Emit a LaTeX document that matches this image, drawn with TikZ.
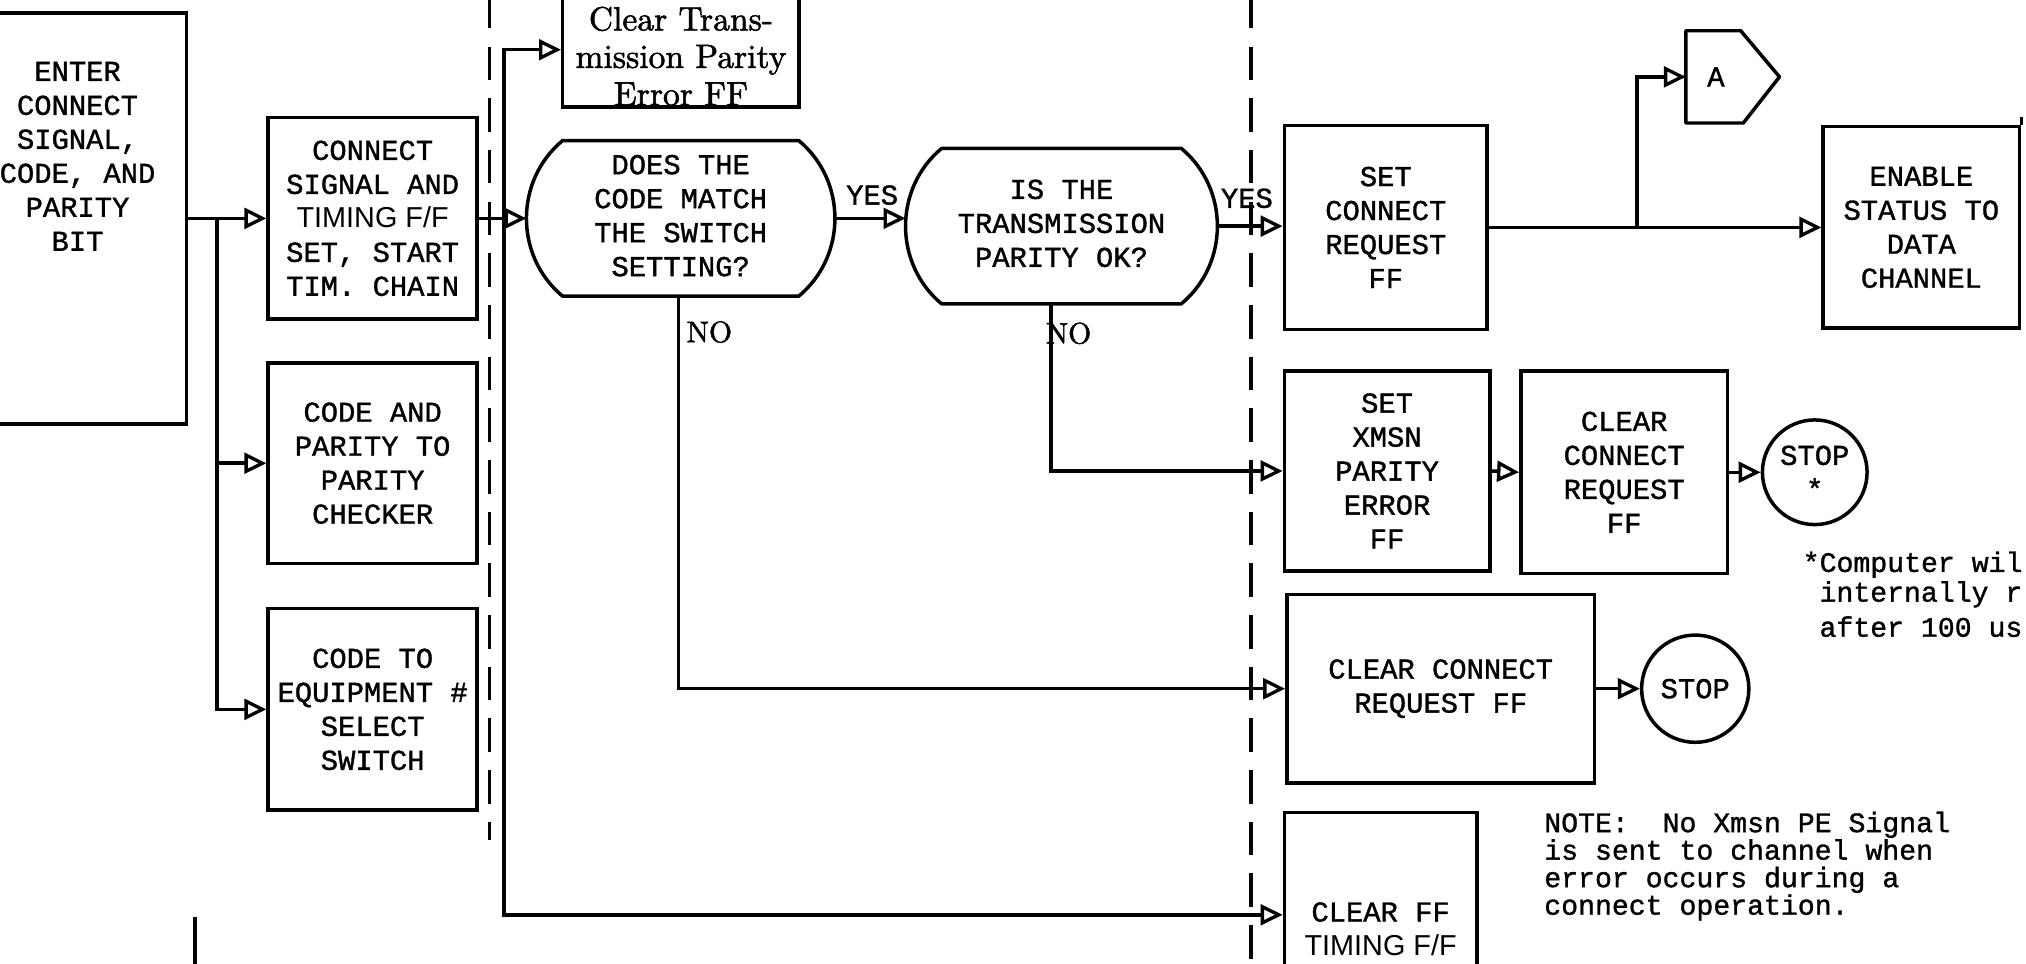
\documentclass[tikz,border=0pt]{standalone}
\usepackage{fontspec}
\usetikzlibrary{arrows.meta,calc}
\newfontfamily\tw[FakeBold=1.2]{Liberation Mono}
\newfontfamily\hand{Liberation Sans}
\newfontfamily\clrfont[FakeBold=1.6]{lmroman10-regular.otf}
\newcommand\decpath[1]{%
  \draw[ln, line join=round] ([xshift=28pt]#1.north west) -- ([xshift=-28pt]#1.north east)
    .. controls ([xshift=9.3pt,yshift=-31pt]#1.north east) and ([xshift=9.3pt,yshift=31pt]#1.south east) .. ([xshift=-28pt]#1.south east)
    -- ([xshift=28pt]#1.south west)
    .. controls ([xshift=-9.3pt,yshift=31pt]#1.south west) and ([xshift=-9.3pt,yshift=-31pt]#1.north west) .. cycle;}
\begin{document}
\begin{tikzpicture}[x=1pt,y=-1pt,
  ln/.style={line width=2.7pt},
  arr/.style={ln, -{Triangle[open,length=17pt,width=16pt,line width=2.6pt]}},
  tfont/.style={font=\tw\fontsize{22.3}{26.3}\selectfont},
  box/.style={draw, line width=2.7pt, inner sep=0pt, align=center, tfont},
  txt/.style={inner sep=0pt, align=center, tfont},
  dec/.style={inner sep=0pt, tfont},
  lbl/.style={inner sep=0pt, tfont},
  nolbl/.style={inner sep=0pt, font=\clrfont\fontsize{23}{26}\selectfont},
  notefont/.style={font=\tw\fontsize{21.8}{21.3}\selectfont},
  stopc/.style={draw, circle, line width=2.7pt, inner sep=0pt, align=center, tfont},
  dashln/.style={line width=2.7pt, dash pattern=on 26pt off 14pt},
  ]
\fill[white] (0,0) rectangle (1568,746);
\clip (0,0) rectangle (1568,746);

% left column
\node[box, minimum width=168.3pt, minimum height=318pt] (enter) at (60.15,169) {};
\node[txt] (entertxt) at (60,121) {ENTER\\CONNECT\\SIGNAL,\\CODE, AND\\PARITY\\BIT};

\node[box, minimum width=161.8pt, minimum height=156pt] (conn) at (288.4,169)
  {CONNECT\\SIGNAL AND\\{\hand TIMING F/F}\\SET, START\\TIM. CHAIN};
\node[box, minimum width=161.8pt, minimum height=155pt] (codeand) at (288.4,358.5)
  {CODE AND\\PARITY TO\\PARITY\\CHECKER};
\node[box, minimum width=161.8pt, minimum height=156pt] (codeto) at (288.4,549)
  {CODE TO\\EQUIPMENT \#\\SELECT\\SWITCH};

% middle
\node[box, minimum width=183pt, minimum height=89pt] (clear) at (527,38.5) {};
\node[txt, font=\clrfont\fontsize{26}{29}\selectfont] (cleartxt) at (527,43.5)
  {Clear Trans-\\mission Parity\\Error FF};

\node[dec, minimum width=238.4pt, minimum height=120pt] (d1) at (526.8,169)
  {\raisebox{-5pt}{\begin{tabular}{@{}c@{}}DOES THE\\CODE MATCH\\THE SWITCH\\SETTING?\end{tabular}}};
\decpath{d1}
\node[dec, minimum width=241pt, minimum height=120pt] (d2) at (821.5,175)
  {\raisebox{5pt}{\begin{tabular}{@{}c@{}}IS THE\\TRANSMISSION\\PARITY OK?\end{tabular}}};
\decpath{d2}

% right
\node[box, minimum width=157pt, minimum height=158pt] (setcr) at (1072.5,176)
  {SET\\CONNECT\\REQUEST\\FF};
\node[box, minimum width=152pt, minimum height=156pt] (enable) at (1487,176)
  {ENABLE\\STATUS TO\\DATA\\CHANNEL};
\node[inner sep=0pt, minimum width=46pt, minimum height=71pt, tfont] (A) at (1328,59.5) {A};
\draw[ln, line join=round] (A.north west) -- ([xshift=-4pt]A.north east) -- ([xshift=26pt]A.east)
  -- ([xshift=-2pt]A.south east) -- (A.south west) -- cycle;

\node[box, minimum width=159pt, minimum height=155pt] (xmsn) at (1073.5,364.5)
  {SET\\XMSN\\PARITY\\ERROR\\FF};
\node[box, minimum width=160pt, minimum height=157pt] (ccs) at (1257,365.5)
  {CLEAR\\CONNECT\\REQUEST\\FF};
\node[stopc, minimum size=81pt] (stop1) at (1404.5,365.5) {STOP\\*};

\node[box, minimum width=238pt, minimum height=146pt] (ccb) at (1115,533)
  {CLEAR CONNECT\\REQUEST FF};
\node[stopc, minimum size=83pt] (stop2) at (1312,533) {STOP};

\node[box, minimum width=149pt, minimum height=180pt] (clrff) at (1068.5,719)
  {CLEAR FF\\{\hand TIMING F/F}};

% notes
\node[anchor=west, inner sep=0pt, notefont] (fn1) at (1395,437) {*Computer wil};
\node[anchor=west, inner sep=0pt, notefont] (fn2) at (1408,460) {internally r};
\node[anchor=west, inner sep=0pt, notefont] (fn3) at (1408,485) {after 100 us};
\node[anchor=north west, inner sep=0pt, align=left, notefont] (note) at (1195,628)
  {NOTE:\ \ No Xmsn PE Signal\\is sent to channel when\\error occurs during a\\connect operation.};

% labels
\node[lbl] (yes1) at (675,151) {YES};
\node[lbl] (yes2) at (965,153.5) {YES};
\node[nolbl] (no1) at (549,257) {NO};
\node[nolbl] (no2) at (827,258) {NO};

% dashed separators
\draw[dashln] (379,-4) -- (379,650);
\draw[dashln] (968,-4) -- (968,750);

% connectors
\coordinate (j0) at (168,169);
\draw[ln] (enter.east) -- (j0);
\draw[arr] (j0) -- (conn.west);
\draw[arr] (j0) |- (codeand.west);
\draw[arr] (j0) |- (codeto.west);

\coordinate (t1) at (390,169);
\draw[arr] (conn.east) -- (d1.west);
\draw[arr] (t1) |- (clear.west);
\draw[arr] (t1) |- ([yshift=11pt]clrff.west);

\draw[arr] (d1.east) -- (d1.east -| d2.west);
\draw[arr] (d2.east) -- (d2.east -| setcr.west);
\draw[arr] (setcr.east) -- (enable.west);
\coordinate (j1) at (1267,176);
\draw[arr] (j1) |- (A.west);

\draw[arr] ([xshift=-1.8pt]d1.south) |- (ccb.west);
\draw[arr] ([xshift=-8pt]d2.south) |- (xmsn.west);
\draw[arr] (xmsn.east) -- (ccs.west);
\draw[arr] (ccs.east) -- (stop1.west);
\draw[arr] (ccb.east) -- (stop2.west);

\draw[ln] (enable.north east) -- ([yshift=6pt]enable.north east);
\draw[ln] (151,710) -- (151,746);
\end{tikzpicture}
\end{document}
